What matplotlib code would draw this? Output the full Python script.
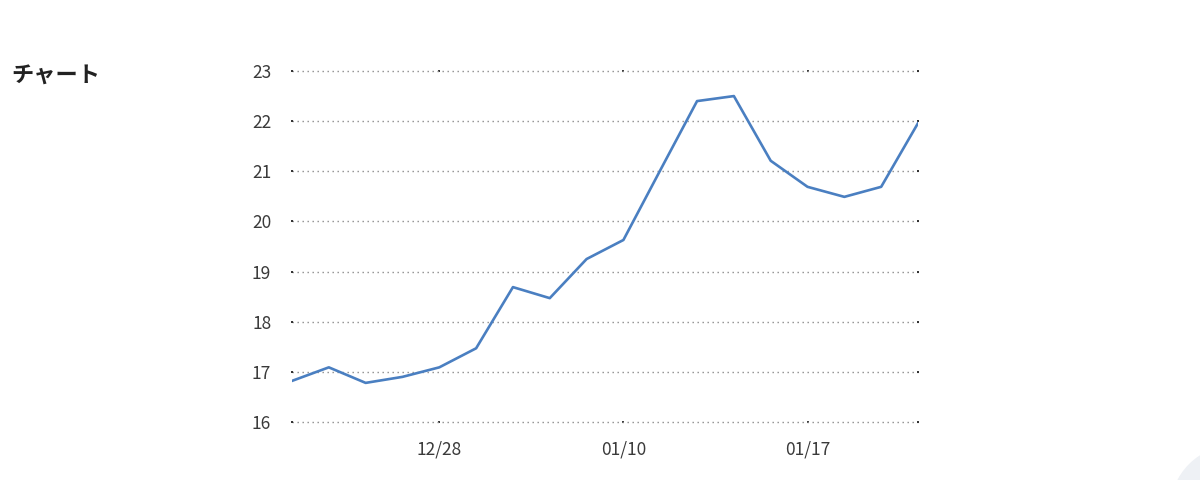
import matplotlib.pyplot as plt
from matplotlib.patches import Ellipse

plt.rcParams['font.family'] = ['Noto Sans CJK JP', 'DejaVu Sans']

# trading days (2023/12 - 2024/01)
dates = ['12/22', '12/25', '12/26', '12/27', '12/28', '12/29', '01/04', '01/05', '01/09',
         '01/10', '01/11', '01/12', '01/15', '01/16', '01/17', '01/18', '01/19', '01/22']
values = [16.82, 17.09, 16.78, 16.90, 17.09, 17.47, 18.69, 18.47, 19.25,
          19.63, 21.02, 22.40, 22.50, 21.21, 20.69, 20.49, 20.69, 21.96]
tick_dates = ['12/28', '01/10', '01/17']
y_ticks = [16, 17, 18, 19, 20, 21, 22, 23]

fig = plt.figure(figsize=(12, 4.8), dpi=100)
ax = fig.add_axes([292 / 1200, 1 - 422 / 480, (918 - 292) / 1200, (422 - 71) / 480])

x = list(range(len(dates)))
ax.plot(x, values, color='#4a7fc1', linewidth=1.9, solid_joinstyle='round', zorder=3)

ax.set_xlim(0, len(dates) - 1)
ax.set_ylim(y_ticks[0], y_ticks[-1])
ax.set_yticks(y_ticks)
ax.set_xticks([dates.index(d) for d in tick_dates])
ax.set_xticklabels(tick_dates)

ax.grid(axis='y', color='#8c8c8c', linestyle=(0, (1, 2.6)), linewidth=1.0)
for gl in ax.get_ygridlines():
    gl.set_clip_on(False)
for s in ax.spines.values():
    s.set_visible(False)

ax.tick_params(axis='both', which='both', length=2, width=1.3, color='#222222',
               labelsize=12.5, labelcolor='#3a3a3a', direction='inout')
ax.tick_params(axis='y', left=True, right=True, pad=14)
ax.tick_params(axis='x', top=True, bottom=True, pad=12)

fig.text(11 / 1200, 1 - 76 / 480, 'チャート', fontsize=16, fontweight='bold',
         color='#222222', va='center', ha='left')

# faint circle peeking in the corner
r = 65
fig.patches.append(Ellipse((1235 / 1200, 1 - 510 / 480), 2 * r / 1200, 2 * r / 480,
                           transform=fig.transFigure, facecolor='#eef1f5', edgecolor='none'))

fig.savefig('out.png', dpi=100)
